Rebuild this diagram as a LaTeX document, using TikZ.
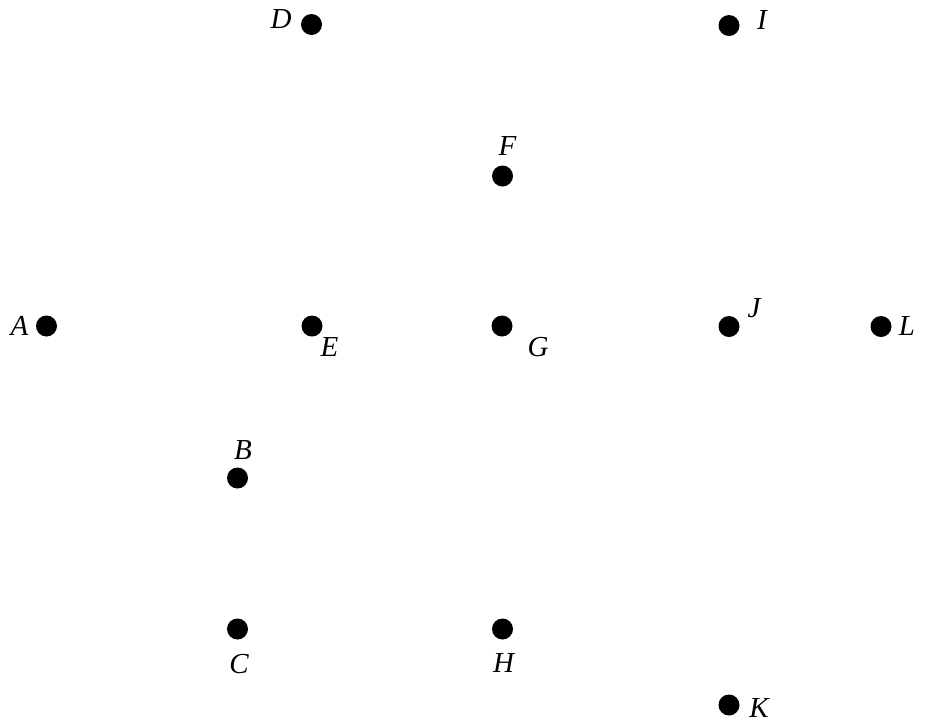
\documentclass[tikz,border=0pt]{standalone}
\usepackage{fontspec}
\setmainfont{Liberation Serif}
\begin{document}
\begin{tikzpicture}[x=1pt,y=-1pt,
  pt/.style={circle,fill=black,inner sep=0pt,minimum size=21pt},
  lbl/.style={anchor=base,inner sep=0pt,font=\fontsize{29}{30}\selectfont\itshape}]
\useasboundingbox (0,0) rectangle (926,724);
% dots
\node[pt] (A) at (46.5,326) {};
\node[pt] (D) at (311.5,24.5) {};
\node[pt] (I) at (729,25.5) {};
\node[pt] (F) at (502.5,176) {};
\node[pt] (E) at (312,326) {};
\node[pt] (G) at (502,326) {};
\node[pt] (J) at (729,326.5) {};
\node[pt] (L) at (881,326.5) {};
\node[pt] (B) at (237.5,478) {};
\node[pt] (C) at (237.5,629) {};
\node[pt] (H) at (502.5,629) {};
\node[pt] (K) at (729,705) {};
% labels
\node[lbl] (lA) at (19.5,335) {A};
\node[lbl] (lD) at (281,28) {D};
\node[lbl] (lI) at (762,29) {I};
\node[lbl] (lF) at (507.5,155) {F};
\node[lbl] (lE) at (329.5,356) {E};
\node[lbl] (lG) at (538,356) {G};
\node[lbl] (lJ) at (754,317) {J};
\node[lbl] (lL) at (907,335) {L};
\node[lbl] (lB) at (243,459) {B};
\node[lbl] (lC) at (239,673) {C};
\node[lbl] (lH) at (503.5,672) {H};
\node[lbl] (lK) at (759,717) {K};
\end{tikzpicture}
\end{document}
